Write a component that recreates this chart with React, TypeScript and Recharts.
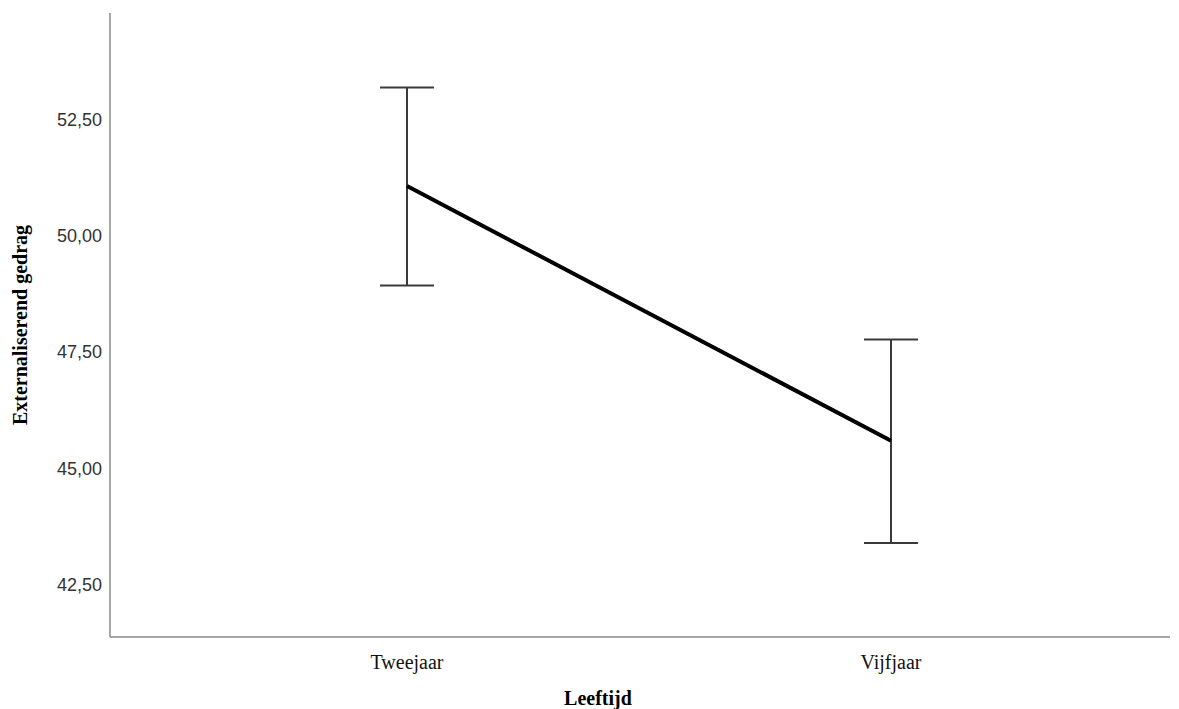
import React from 'react';
import { LineChart, Line, XAxis, YAxis, ErrorBar } from 'recharts';

// Leeftijd categories with mean and 95% CI bounds
const categories = ['Tweejaar', 'Vijfjaar'];
const means = [51.07, 45.59];
const lowerCI = [48.93, 43.39];
const upperCI = [53.19, 47.77];
const yTicks = [42.5, 45, 47.5, 50, 52.5];

const data = categories.map((name, i) => ({
  name,
  mean: means[i],
  ci: [means[i] - lowerCI[i], upperCI[i] - means[i]],
}));

const formatTick = (v: number) => v.toFixed(2).replace('.', ',');

const App: React.FC = () => {
  return (
    <div style={{ position: 'absolute', left: 0, top: 0, background: '#fff' }}>
      <LineChart width={1179} height={709} data={data} margin={{ top: 13, right: 9, left: 0, bottom: 0 }}>
        <XAxis
          dataKey="name"
          padding={{ left: 297, right: 279 }}
          axisLine={{ stroke: '#8a8a8a', strokeWidth: 1.5 }}
          tickLine={false}
          height={72}
          tickMargin={12}
          tick={{ fill: '#111', fontFamily: '"Liberation Serif", serif', fontSize: 20 }}
          label={{
            value: 'Leeftijd',
            position: 'insideBottom',
            offset: 4,
            dx: -42,
            style: { fill: '#000', fontFamily: '"Liberation Serif", serif', fontWeight: 'bold', fontSize: 20 },
          }}
        />
        <YAxis
          width={110}
          domain={[41.37, 54.79]}
          ticks={yTicks}
          tickFormatter={formatTick}
          axisLine={{ stroke: '#8a8a8a', strokeWidth: 1.5 }}
          tickLine={false}
          tick={{ fill: '#333', fontFamily: '"Liberation Sans", Arial, sans-serif', fontSize: 18 }}
          label={{
            value: 'Externaliserend gedrag',
            angle: -90,
            position: 'insideLeft',
            offset: 20,
            style: {
              textAnchor: 'middle',
              fill: '#000',
              fontFamily: '"Liberation Serif", serif',
              fontWeight: 'bold',
              fontSize: 20,
            },
          }}
        />
        <Line
          type="linear"
          dataKey="mean"
          stroke="#000"
          strokeWidth={4}
          dot={false}
          activeDot={false}
          isAnimationActive={false}
        >
          <ErrorBar dataKey="ci" width={27} stroke="#3a3a3a" strokeWidth={2} direction="y" isAnimationActive={false} />
        </Line>
      </LineChart>
    </div>
  );
};

export default App;
